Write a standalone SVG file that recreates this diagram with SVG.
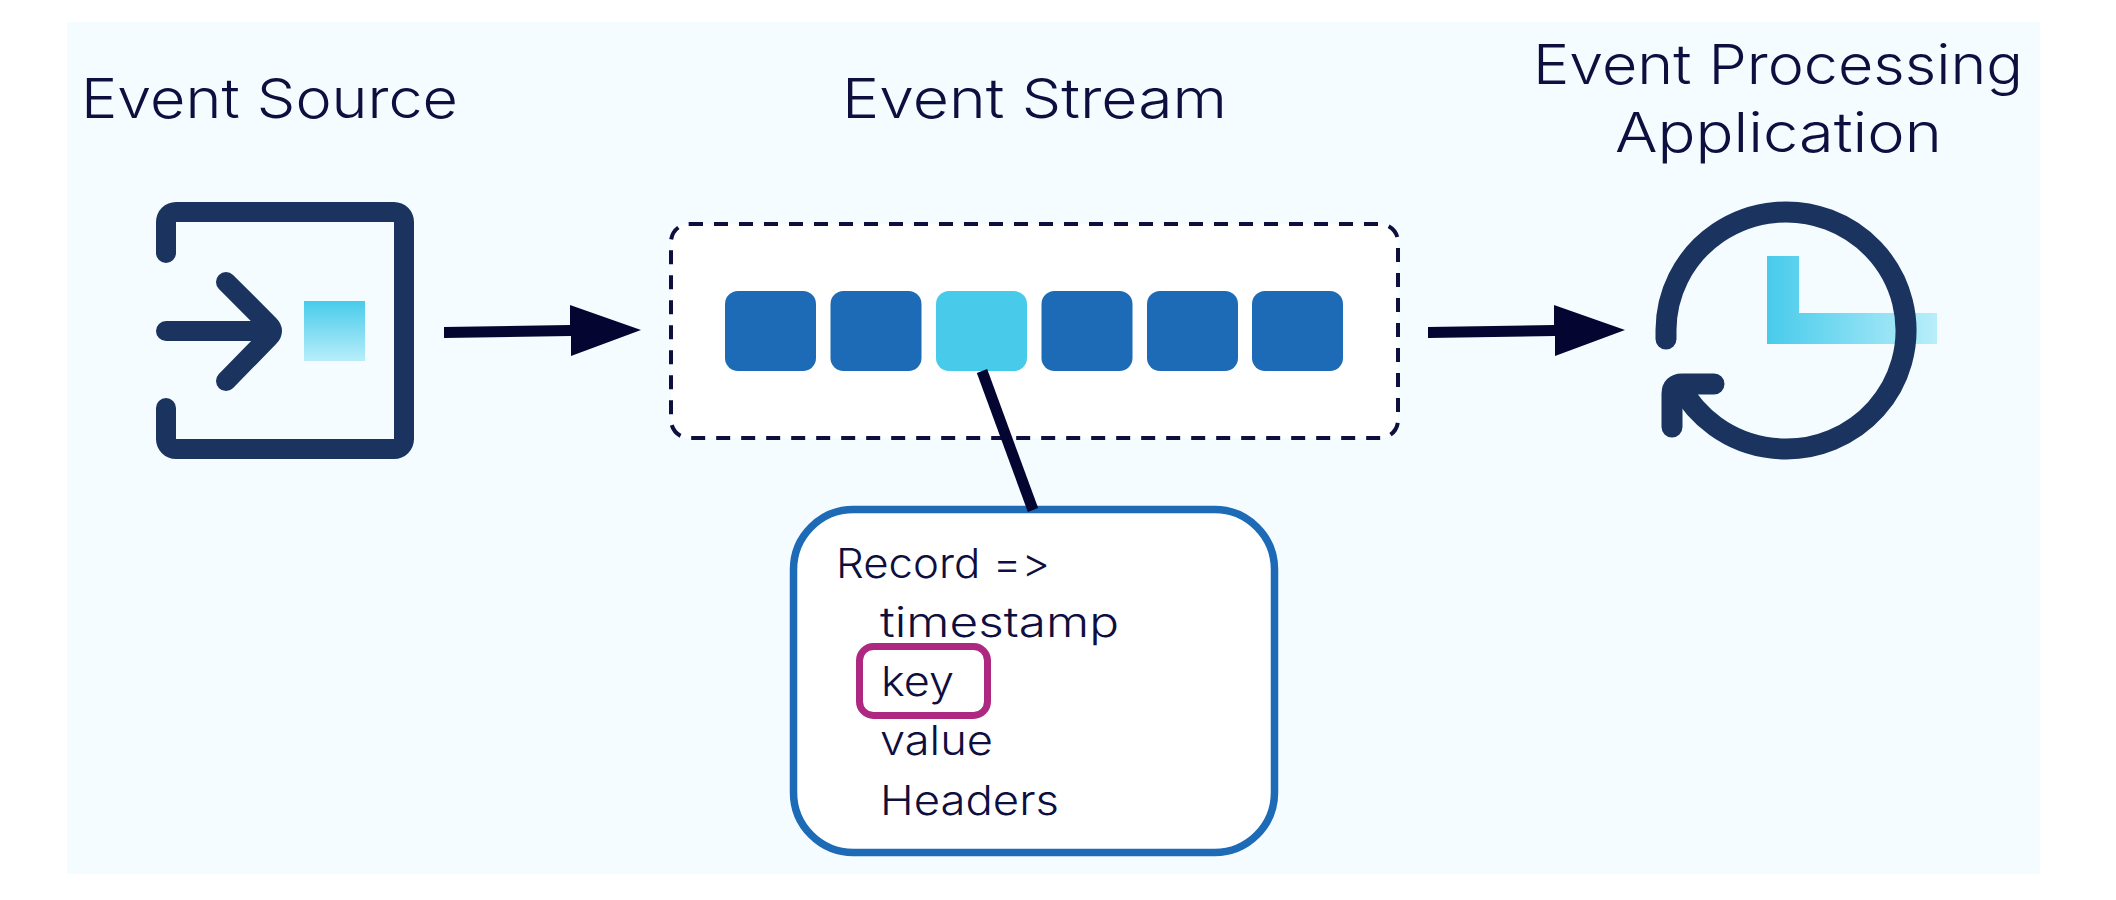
<svg xmlns="http://www.w3.org/2000/svg" width="2116" height="900" viewBox="0 0 2116 900">
<style>
text{font-family:"Inter","Noto Sans",sans-serif;fill:#0e0e3f;font-variant-ligatures:none;font-feature-settings:"calt" 0,"liga" 0}
.t{font-size:55px;font-weight:300}
.r{font-size:41px;font-weight:300}
.ic{fill:none;stroke:#1b335f;stroke-width:20;stroke-linecap:round;stroke-linejoin:round}
.ck{stroke-width:21}
.c{fill:#1d6ab7}
.k{fill:#040530}
</style>
<defs>
<linearGradient id="gv" x1="0" y1="0" x2="0" y2="1"><stop offset="0" stop-color="#48cbeb"/><stop offset="1" stop-color="#b8eefa"/></linearGradient>
<linearGradient id="gh" gradientUnits="userSpaceOnUse" x1="1767" y1="0" x2="1937" y2="0"><stop offset="0" stop-color="#48cbeb"/><stop offset="1" stop-color="#b8eefa"/></linearGradient>
</defs>
<rect x="0" y="0" width="2116" height="900" fill="#ffffff"/>
<rect id="panel" x="67" y="22" width="1973" height="852" fill="#f4fcff"/>
<g id="event-source">
<text class="t" x="81" y="118" textLength="377" lengthAdjust="spacingAndGlyphs">Event Source</text>
<path d="M176 253V222H394V439H176V408A10 10 0 0 0 156 408V439A20 20 0 0 0 176 459H394A20 20 0 0 0 414 439V222A20 20 0 0 0 394 202H176A20 20 0 0 0 156 222V253A10 10 0 0 0 176 253Z" fill="#1b335f"/>
<path class="ic" d="M166 331H268M226 282L269 325Q275 331 269 337L226 381"/>
<rect x="304" y="301" width="61" height="60" fill="url(#gv)"/>
</g>
<g id="event-stream">
<text class="t" x="842" y="118" textLength="385" lengthAdjust="spacingAndGlyphs">Event Stream</text>
<rect x="671" y="224" width="727" height="214" rx="18" fill="#ffffff" stroke="#0e0e3f" stroke-width="4" stroke-dasharray="14 11"/>
<rect class="c" x="725" y="291" width="91" height="80" rx="13"/>
<rect class="c" x="830.500" y="291" width="91" height="80" rx="13"/>
<rect x="936" y="291" width="91" height="80" rx="13" fill="#48cbeb"/>
<rect class="c" x="1041.500" y="291" width="91" height="80" rx="13"/>
<rect class="c" x="1147" y="291" width="91" height="80" rx="13"/>
<rect class="c" x="1252" y="291" width="91" height="80" rx="13"/>
</g>
<g id="event-processing-application">
<text class="t" x="1533" y="84" textLength="490" lengthAdjust="spacingAndGlyphs">Event Processing</text>
<text class="t" x="1615" y="152" textLength="327" lengthAdjust="spacingAndGlyphs">Application</text>
<path d="M1767 256H1799V313H1937V344H1767Z" fill="url(#gh)"/>
<path class="ic ck" d="M1666 339V330A120 118.500 0 1 1 1680 386"/>
<path class="ic ck" d="M1714 384H1682Q1672 384 1672 394V427"/>
</g>
<g id="record">
<rect x="793.500" y="509.500" width="481" height="343" rx="60" fill="#ffffff" stroke="#1d6ab7" stroke-width="7.500"/>
<rect x="859.500" y="646.500" width="128" height="69" rx="14" fill="none" stroke="#ae2781" stroke-width="7"/>
<text class="r" x="836" y="578" textLength="214" lengthAdjust="spacingAndGlyphs">Record =&gt;</text>
<text class="r" x="880" y="637" textLength="239" lengthAdjust="spacingAndGlyphs">timestamp</text>
<text class="r" x="881" y="696" textLength="73" lengthAdjust="spacingAndGlyphs">key</text>
<text class="r" x="880" y="755" textLength="113" lengthAdjust="spacingAndGlyphs">value</text>
<text class="r" x="880" y="815" textLength="179" lengthAdjust="spacingAndGlyphs">Headers</text>
</g>
<g id="connectors">
<path class="k" d="M444 327L570 325V305L641 330L571 356V336L444 338Z"/>
<path class="k" d="M1428 327L1554 325V305L1625 330L1555 356V336L1428 338Z"/>
<path d="M982 371L1033 510" fill="none" stroke="#040530" stroke-width="11"/>
</g>
</svg>
